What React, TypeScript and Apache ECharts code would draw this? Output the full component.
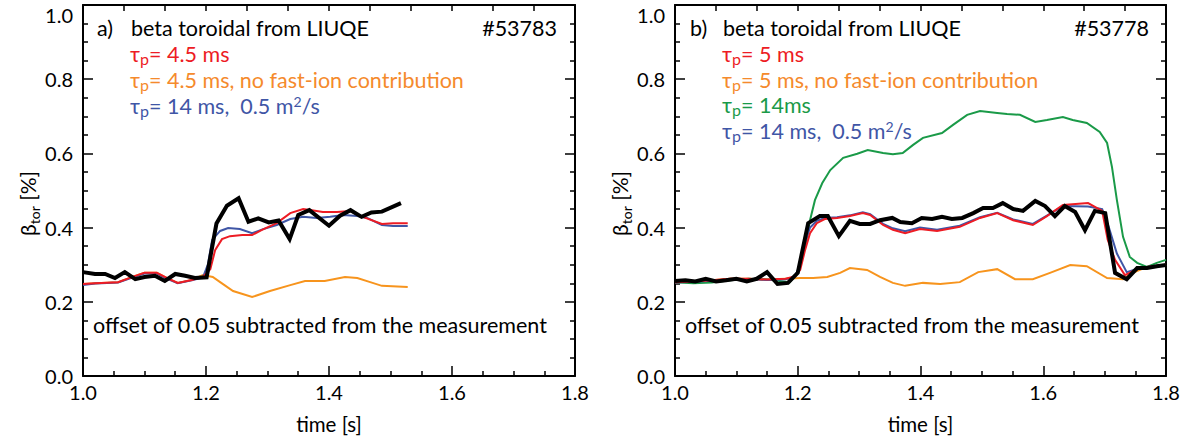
import React, { useEffect, useRef } from "react";
import * as echarts from "echarts";

// ---------- data ----------
const X_RANGE = [1.0, 1.8];
const Y_RANGE = [0.0, 1.0];

// Panel a) #53783
const aMeasT = [1.0, 1.0195, 1.036, 1.052, 1.068, 1.085, 1.1, 1.117, 1.133, 1.15, 1.166, 1.182, 1.201, 1.217, 1.234, 1.253, 1.269, 1.285, 1.302, 1.318, 1.336, 1.35, 1.368, 1.4, 1.418, 1.435, 1.453, 1.469, 1.486, 1.517];
const aMeasV = [0.28, 0.275, 0.275, 0.264, 0.28, 0.261, 0.267, 0.27, 0.256, 0.275, 0.27, 0.264, 0.266, 0.411, 0.459, 0.479, 0.416, 0.425, 0.414, 0.419, 0.369, 0.434, 0.447, 0.405, 0.432, 0.447, 0.429, 0.441, 0.443, 0.466];

const aRedT = [1.0, 1.02, 1.03, 1.057, 1.085, 1.1, 1.12, 1.137, 1.154, 1.177, 1.195, 1.207, 1.215, 1.226, 1.239, 1.259, 1.275, 1.291, 1.315, 1.337, 1.358, 1.372, 1.39, 1.413, 1.434, 1.455, 1.486, 1.504, 1.528];
const aRedV = [0.248, 0.25, 0.251, 0.253, 0.27, 0.278, 0.278, 0.264, 0.251, 0.259, 0.267, 0.288, 0.34, 0.369, 0.377, 0.38, 0.38, 0.394, 0.412, 0.439, 0.45, 0.447, 0.442, 0.442, 0.445, 0.429, 0.41, 0.412, 0.412];

const aBlueT = [1.0, 1.02, 1.03, 1.057, 1.085, 1.1, 1.12, 1.137, 1.154, 1.177, 1.195, 1.203, 1.21, 1.223, 1.236, 1.255, 1.275, 1.293, 1.315, 1.337, 1.358, 1.38, 1.402, 1.423, 1.446, 1.462, 1.486, 1.504, 1.528];
const aBlueV = [0.245, 0.249, 0.25, 0.252, 0.268, 0.276, 0.276, 0.262, 0.25, 0.258, 0.266, 0.3, 0.367, 0.391, 0.399, 0.396, 0.385, 0.396, 0.407, 0.423, 0.429, 0.426, 0.429, 0.434, 0.431, 0.426, 0.407, 0.404, 0.404];

const aOrangeT = [1.0, 1.02, 1.03, 1.057, 1.085, 1.1, 1.12, 1.137, 1.154, 1.177, 1.195, 1.211, 1.223, 1.244, 1.275, 1.304, 1.337, 1.361, 1.393, 1.426, 1.446, 1.467, 1.486, 1.528];
const aOrangeV = [0.248, 0.25, 0.251, 0.253, 0.27, 0.278, 0.278, 0.264, 0.251, 0.259, 0.272, 0.267, 0.253, 0.229, 0.213, 0.229, 0.245, 0.256, 0.256, 0.267, 0.264, 0.253, 0.243, 0.24];

// Panel b) #53778
const bMeasT = [1.0, 1.017, 1.033, 1.05, 1.067, 1.083, 1.1, 1.117, 1.133, 1.15, 1.167, 1.184, 1.2, 1.217, 1.236, 1.249, 1.267, 1.285, 1.301, 1.318, 1.334, 1.354, 1.367, 1.386, 1.402, 1.419, 1.435, 1.451, 1.468, 1.486, 1.502, 1.518, 1.534, 1.551, 1.567, 1.587, 1.603, 1.619, 1.635, 1.652, 1.668, 1.684, 1.701, 1.717, 1.736, 1.753, 1.769, 1.785, 1.8];
const bMeasV = [0.256, 0.258, 0.255, 0.262, 0.255, 0.258, 0.262, 0.255, 0.262, 0.28, 0.248, 0.251, 0.278, 0.412, 0.431, 0.431, 0.377, 0.418, 0.41, 0.41, 0.42, 0.426, 0.415, 0.412, 0.426, 0.423, 0.429, 0.423, 0.426, 0.439, 0.453, 0.453, 0.466, 0.45, 0.445, 0.472, 0.458, 0.431, 0.458, 0.442, 0.393, 0.445, 0.439, 0.278, 0.261, 0.291, 0.291, 0.296, 0.299];

const bRedT = [1.0, 1.03, 1.06, 1.09, 1.12, 1.15, 1.18, 1.195, 1.204, 1.212, 1.22, 1.231, 1.244, 1.264, 1.285, 1.306, 1.318, 1.339, 1.355, 1.375, 1.399, 1.427, 1.464, 1.497, 1.525, 1.551, 1.583, 1.606, 1.632, 1.673, 1.696, 1.705, 1.717, 1.733, 1.75, 1.769, 1.8];
const bRedV = [0.253, 0.255, 0.258, 0.262, 0.262, 0.26, 0.262, 0.268, 0.286, 0.34, 0.385, 0.412, 0.423, 0.426, 0.431, 0.439, 0.434, 0.407, 0.394, 0.385, 0.396, 0.391, 0.402, 0.426, 0.439, 0.42, 0.407, 0.431, 0.461, 0.466, 0.445, 0.367, 0.313, 0.272, 0.286, 0.294, 0.3];

const bBlueT = [1.0, 1.03, 1.06, 1.09, 1.12, 1.15, 1.18, 1.195, 1.204, 1.212, 1.22, 1.231, 1.244, 1.264, 1.285, 1.306, 1.318, 1.339, 1.355, 1.375, 1.399, 1.427, 1.464, 1.497, 1.525, 1.551, 1.583, 1.606, 1.632, 1.673, 1.696, 1.707, 1.72, 1.736, 1.75, 1.769, 1.8];
const bBlueV = [0.252, 0.254, 0.257, 0.261, 0.261, 0.259, 0.261, 0.267, 0.3, 0.36, 0.4, 0.418, 0.426, 0.428, 0.433, 0.441, 0.436, 0.41, 0.398, 0.39, 0.4, 0.394, 0.405, 0.428, 0.44, 0.422, 0.41, 0.432, 0.458, 0.457, 0.45, 0.4, 0.33, 0.28, 0.287, 0.294, 0.3];

const bOrangeT = [1.0, 1.03, 1.06, 1.09, 1.12, 1.15, 1.18, 1.204, 1.225, 1.248, 1.269, 1.285, 1.313, 1.334, 1.355, 1.375, 1.404, 1.432, 1.464, 1.494, 1.525, 1.554, 1.583, 1.611, 1.644, 1.671, 1.704, 1.73, 1.746, 1.769, 1.8];
const bOrangeV = [0.253, 0.255, 0.258, 0.262, 0.262, 0.26, 0.262, 0.264, 0.264, 0.267, 0.278, 0.291, 0.286, 0.267, 0.251, 0.243, 0.251, 0.248, 0.253, 0.28, 0.288, 0.261, 0.261, 0.278, 0.299, 0.296, 0.264, 0.261, 0.278, 0.294, 0.3];

const bGreenT = [1.0, 1.03, 1.06, 1.09, 1.12, 1.15, 1.187, 1.2, 1.212, 1.22, 1.228, 1.24, 1.253, 1.274, 1.297, 1.314, 1.339, 1.355, 1.371, 1.388, 1.404, 1.435, 1.453, 1.476, 1.497, 1.525, 1.541, 1.562, 1.587, 1.606, 1.632, 1.648, 1.671, 1.692, 1.704, 1.712, 1.72, 1.73, 1.741, 1.753, 1.769, 1.785, 1.8];
const bGreenV = [0.253, 0.25, 0.252, 0.258, 0.262, 0.26, 0.253, 0.278, 0.348, 0.42, 0.474, 0.52, 0.555, 0.588, 0.599, 0.609, 0.601, 0.598, 0.601, 0.623, 0.642, 0.655, 0.677, 0.704, 0.714, 0.709, 0.706, 0.704, 0.685, 0.69, 0.698, 0.69, 0.682, 0.658, 0.628, 0.563, 0.474, 0.375, 0.321, 0.305, 0.294, 0.305, 0.313];

// ---------- styles ----------
const FONT = "Lato, 'Open Sans', sans-serif";
const COL = {
  red: "#ed1c24",
  orange: "#f7941d",
  orangeText: "#f58a2c",
  blue: "#3f56a6",
  green: "#1a9a48",
  black: "#000000",
};

const zip = (t: number[], v: number[]) => t.map((x, i) => [x, v[i]]);

const rich = {
  t: { fontSize: 21.5, lineHeight: 24, fontFamily: FONT },
  sub: { fontSize: 16, lineHeight: 10, verticalAlign: "bottom", fontFamily: FONT },
  sup: { fontSize: 14, lineHeight: 10, verticalAlign: "top", fontFamily: FONT },
};

function txt(x: number, y: number, text: string, color: string, align = "left") {
  return {
    type: "text",
    x,
    y,
    z: 100,
    style: {
      text,
      fill: color,
      fontSize: 21.5,
      fontFamily: FONT,
      align,
      verticalAlign: "middle",
      rich,
    },
  };
}

function line(name: string, t: number[], v: number[], color: string, width: number, idx: number, z: number) {
  return {
    name,
    type: "line",
    xAxisIndex: idx,
    yAxisIndex: idx,
    data: zip(t, v),
    showSymbol: false,
    symbol: "none",
    lineStyle: { color, width, join: "miter" },
    itemStyle: { color },
    z,
  };
}

const AXIS_LINE = { show: true, onZero: false, lineStyle: { color: "#000", width: 2 } };

function xAxis(grid: number, position: string, labels: boolean) {
  return {
    type: "value",
    gridIndex: grid,
    position,
    min: X_RANGE[0],
    max: X_RANGE[1],
    interval: labels ? 0.2 : (X_RANGE[1] - X_RANGE[0]) / 12,
    name: labels ? "time [s]" : "",
    nameLocation: "middle",
    nameGap: 37,
    nameTextStyle: { fontSize: 20.5, fontFamily: FONT, color: "#000" },
    axisLine: AXIS_LINE,
    axisTick: { show: true, inside: true, length: labels ? 10 : 6, lineStyle: { color: "#000", width: 1.5 } },
    minorTick: { show: labels, splitNumber: 4, length: 5, lineStyle: { color: "#000", width: 1.5 } },
    axisLabel: {
      show: labels,
      margin: 6,
      fontSize: 20,
      fontFamily: FONT,
      color: "#000",
      formatter: (v: number) => v.toFixed(1),
    },
    splitLine: { show: false },
  };
}

function yAxis(grid: number, position: string, labels: boolean) {
  return {
    type: "value",
    gridIndex: grid,
    position,
    min: Y_RANGE[0],
    max: Y_RANGE[1],
    interval: 0.2,
    name: labels ? "{a|β}{s|tor}{a| [%]}" : "",
    nameLocation: "middle",
    nameRotate: 90,
    nameGap: 40,
    nameTextStyle: {
      color: "#000",
      padding: [0, 26, 0, 0],
      rich: {
        a: { fontSize: 21, lineHeight: 28, fontFamily: FONT, color: "#000" },
        s: { fontSize: 14, lineHeight: 14, verticalAlign: "bottom", fontFamily: FONT, color: "#000" },
      },
    },
    axisLine: AXIS_LINE,
    axisTick: { show: true, inside: true, length: 10, lineStyle: { color: "#000", width: 1.5 } },
    minorTick: { show: true, splitNumber: 4, length: 5, lineStyle: { color: "#000", width: 1.5 } },
    axisLabel: {
      show: labels,
      margin: 10,
      fontSize: 20,
      fontFamily: FONT,
      color: "#000",
      verticalAlignMaxLabel: "top",
      formatter: (v: number) => v.toFixed(1),
    },
    splitLine: { show: false },
  };
}

export default function App() {
  const ref = useRef<HTMLDivElement>(null);
  useEffect(() => {
    if (!ref.current) return;
    const chart = echarts.init(ref.current, null, { renderer: "svg" });
    const option = {
      animation: false,
      backgroundColor: "#ffffff",
      grid: [
        { left: 83, top: 5, width: 492, height: 371, containLabel: false },
        { left: 675, top: 5, width: 491, height: 371, containLabel: false },
      ],
      xAxis: [xAxis(0, "bottom", true), xAxis(1, "bottom", true), xAxis(0, "top", false), xAxis(1, "top", false)],
      yAxis: [yAxis(0, "left", true), yAxis(1, "left", true), yAxis(0, "right", false), yAxis(1, "right", false)],
      series: [
        line("a orange", aOrangeT, aOrangeV, COL.orange, 2, 0, 2),
        line("a blue", aBlueT, aBlueV, COL.blue, 2, 0, 3),
        line("a red", aRedT, aRedV, COL.red, 2, 0, 4),
        line("a meas", aMeasT, aMeasV, COL.black, 4, 0, 5),
        line("b orange", bOrangeT, bOrangeV, COL.orange, 2, 1, 2),
        line("b green", bGreenT, bGreenV, COL.green, 2, 1, 2),
        line("b blue", bBlueT, bBlueV, COL.blue, 2, 1, 3),
        line("b red", bRedT, bRedV, COL.red, 2, 1, 4),
        line("b meas", bMeasT, bMeasV, COL.black, 4, 1, 5),
      ],
      graphic: [
        txt(97, 28, "{t|a)}", "#000"),
        txt(131, 28, "{t|beta toroidal from LIUQE}", "#000"),
        txt(557, 28, "{t|#53783}", "#000", "right"),
        txt(130, 54, "{t|τ}{sub|p}{t|= 4.5 ms}", COL.red),
        txt(130, 80, "{t|τ}{sub|p}{t|= 4.5 ms, no fast-ion contribution}", COL.orangeText),
        txt(130, 106, "{t|τ}{sub|p}{t|= 14 ms,  0.5 m}{sup|2}{t|/s}", COL.blue),
        txt(93, 325, "{t|offset of 0.05 subtracted from the measurement}", "#000"),
        txt(690, 28, "{t|b)}", "#000"),
        txt(723, 28, "{t|beta toroidal from LIUQE}", "#000"),
        txt(1149, 28, "{t|#53778}", "#000", "right"),
        txt(722, 54, "{t|τ}{sub|p}{t|= 5 ms}", COL.red),
        txt(722, 80, "{t|τ}{sub|p}{t|= 5 ms, no fast-ion contribution}", COL.orangeText),
        txt(722, 105, "{t|τ}{sub|p}{t|= 14ms}", COL.green),
        txt(722, 131, "{t|τ}{sub|p}{t|= 14 ms,  0.5 m}{sup|2}{t|/s}", COL.blue),
        txt(685, 325, "{t|offset of 0.05 subtracted from the measurement}", "#000"),
      ],
    };
    chart.setOption(option as any);
    return () => chart.dispose();
  }, []);
  return (
    <div
      ref={ref}
      style={{ position: "fixed", left: 0, top: 0, width: 1191, height: 439, background: "#fff" }}
    />
  );
}
